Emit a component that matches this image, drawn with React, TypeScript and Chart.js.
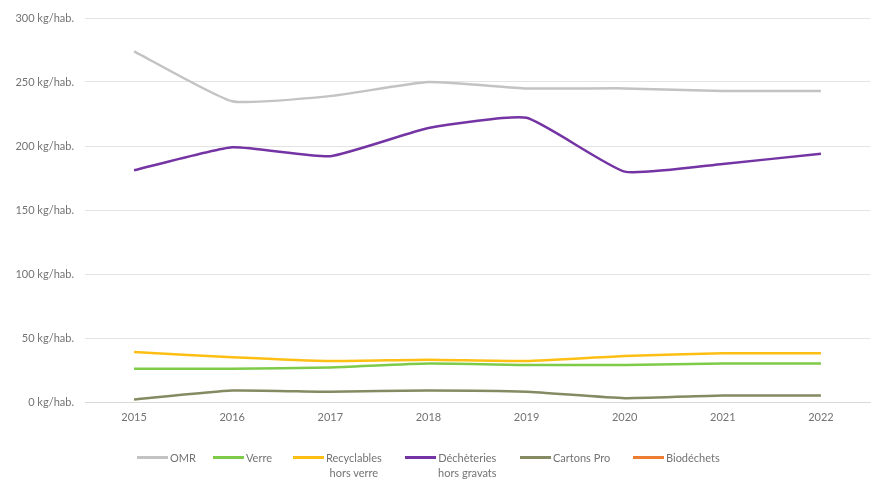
import React, { useEffect, useRef } from "react";
import { Chart, registerables } from "chart.js";

Chart.register(...registerables);

const years = ["2015", "2016", "2017", "2018", "2019", "2020", "2021", "2022"];
const omr = [274, 235, 239, 250, 245, 245, 243, 243];
const verre = [26, 26, 27, 30, 29, 29, 30, 30];
const recyclables = [39, 35, 32, 33, 32, 36, 38, 38];
const decheteries = [181, 199, 192, 214, 222, 180, 186, 194];
const cartonsPro = [2, 9, 8, 9, 8, 3, 5, 5];
const biodechets: (number | null)[] = [null, null, null, null, null, null, null, null];

const seriesNames = ["OMR", "Verre", "Recyclables\nhors verre", "Déchèteries\nhors gravats", "Cartons Pro", "Biodéchets"];
const seriesColors = ["#c3c3c3", "#7dcb48", "#fdbf14", "#7434a4", "#858a62", "#ed7d31"];
const seriesData = [omr, verre, recyclables, decheteries, cartonsPro, biodechets];

const legendLeft = [137, 213, 293, 405, 520, 633];

export default function App() {
  const ref = useRef<HTMLCanvasElement | null>(null);
  useEffect(() => {
    if (!ref.current) return;
    const chart = new Chart(ref.current, {
      type: "line",
      data: {
        labels: years,
        datasets: seriesData.map((d, i) => ({
          label: seriesNames[i].replace("\n", " "),
          data: d,
          borderColor: seriesColors[i],
          backgroundColor: seriesColors[i],
          borderWidth: 2.5,
          pointRadius: 0,
          tension: 0.15,
          fill: false,
        })),
      },
      options: {
        animation: false,
        responsive: false,
        maintainAspectRatio: false,
        layout: { padding: { left: 0, right: 3, top: 18, bottom: 48 } },
        plugins: { legend: { display: false }, tooltip: { enabled: false }, title: { display: false } },
        scales: {
          x: {
            offset: true,
            grid: { display: false, drawTicks: false },
            border: { display: true, color: "#d9d9d9", width: 1 },
            ticks: { color: "#737373", padding: 9, font: { family: "Lato", size: 11 } },
            afterFit: (s: any) => { s.height = 30; },
          },
          y: {
            min: 0,
            max: 300,
            ticks: {
              stepSize: 50,
              color: "#737373",
              padding: 11,
              font: { family: "Lato", size: 11 },
              callback: (v: any) => `${v} kg/hab.`,
            },
            grid: { color: "#e3e3e3", drawTicks: false, lineWidth: 1 },
            border: { display: false },
            afterFit: (s: any) => { s.width = 85; },
          },
        },
      },
    });
    return () => chart.destroy();
  }, []);

  return (
    <div style={{ position: "fixed", left: 0, top: 0, width: 873, height: 480, background: "#fff", overflow: "hidden" }}>
      <canvas ref={ref} width={873} height={480} style={{ width: 873, height: 480, display: "block" }} />
      {seriesNames.map((name, i) => (
        <div key={i} style={{ position: "absolute", left: legendLeft[i], top: 450, display: "flex", alignItems: "flex-start", fontFamily: "Lato", fontSize: 11, color: "#737373", lineHeight: "15px" }}>
          <span style={{ display: "inline-block", width: 31, height: 3, background: seriesColors[i], marginTop: 6, marginRight: 2 }} />
          <span style={{ whiteSpace: "pre", textAlign: "center" }}>{name}</span>
        </div>
      ))}
    </div>
  );
}
